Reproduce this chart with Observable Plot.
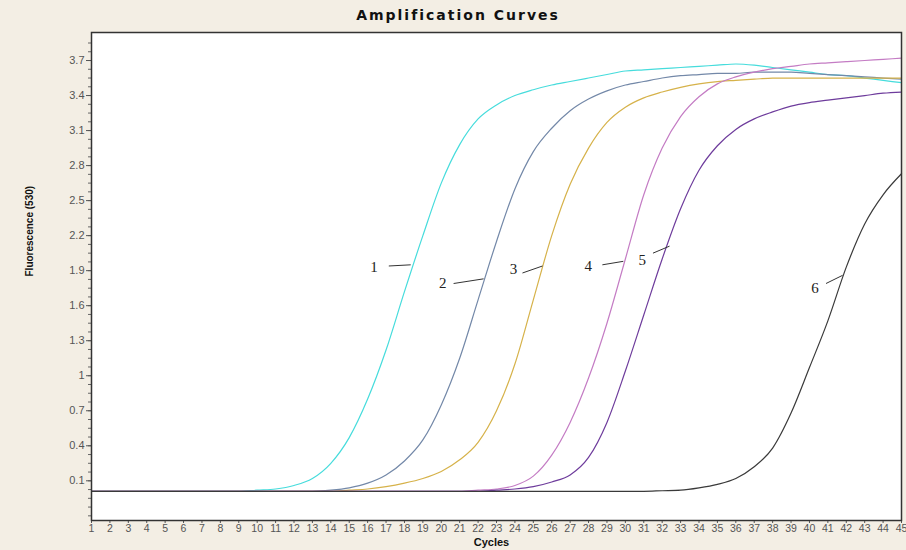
<!DOCTYPE html>
<html><head><meta charset="utf-8">
<script src="https://cdn.jsdelivr.net/npm/d3@7"></script>
<script src="https://cdn.jsdelivr.net/npm/@observablehq/plot@0.6"></script>
<style>
body{margin:0;background:#f3eee4;width:906px;height:550px;overflow:hidden;font-family:"Liberation Sans",Arial,sans-serif;}
#title{height:24px;line-height:30px;text-align:center;font-family:"DejaVu Sans",sans-serif;font-weight:bold;font-size:14px;letter-spacing:2px;color:#111;padding-left:10px;}
#chart svg{display:block;}
</style></head><body>
<div id="title">Amplification Curves</div>
<div id="chart"></div>
<script>
const cycles = [1,2,3,4,5,6,7,8,9,10,11,12,13,14,15,16,17,18,19,20,21,22,23,24,25,26,27,28,29,30,31,32,33,34,35,36,37,38,39,40,41,42,43,44,45];

const curve1 = [0.01,0.01,0.01,0.01,0.01,0.01,0.01,0.01,0.01,0.02,0.03,0.06,0.12,0.25,0.47,0.80,1.22,1.72,2.20,2.65,2.98,3.20,3.32,3.40,3.45,3.49,3.52,3.55,3.58,3.61,3.62,3.63,3.64,3.65,3.66,3.67,3.66,3.64,3.62,3.60,3.58,3.57,3.55,3.53,3.51];
const curve2 = [0.01,0.01,0.01,0.01,0.01,0.01,0.01,0.01,0.01,0.01,0.01,0.01,0.01,0.02,0.04,0.08,0.15,0.27,0.45,0.75,1.15,1.65,2.15,2.60,2.92,3.12,3.27,3.37,3.44,3.49,3.52,3.55,3.57,3.58,3.59,3.59,3.60,3.60,3.60,3.59,3.58,3.57,3.56,3.55,3.54];
const curve3 = [0.01,0.01,0.01,0.01,0.01,0.01,0.01,0.01,0.01,0.01,0.01,0.01,0.01,0.01,0.02,0.03,0.05,0.08,0.12,0.18,0.28,0.43,0.70,1.10,1.65,2.20,2.64,2.95,3.17,3.30,3.38,3.43,3.47,3.50,3.52,3.53,3.54,3.55,3.55,3.55,3.55,3.55,3.55,3.55,3.55];
const curve4 = [0.01,0.01,0.01,0.01,0.01,0.01,0.01,0.01,0.01,0.01,0.01,0.01,0.01,0.01,0.01,0.01,0.01,0.01,0.01,0.01,0.01,0.02,0.03,0.06,0.14,0.32,0.60,0.98,1.45,2.00,2.55,2.95,3.22,3.39,3.50,3.56,3.60,3.63,3.65,3.67,3.68,3.69,3.70,3.71,3.72];
const curve5 = [0.01,0.01,0.01,0.01,0.01,0.01,0.01,0.01,0.01,0.01,0.01,0.01,0.01,0.01,0.01,0.01,0.01,0.01,0.01,0.01,0.01,0.01,0.02,0.03,0.05,0.09,0.15,0.30,0.60,1.04,1.52,2.00,2.43,2.76,2.97,3.11,3.20,3.26,3.31,3.34,3.36,3.38,3.40,3.42,3.43];
const curve6 = [0.01,0.01,0.01,0.01,0.01,0.01,0.01,0.01,0.01,0.01,0.01,0.01,0.01,0.01,0.01,0.01,0.01,0.01,0.01,0.01,0.01,0.01,0.01,0.01,0.01,0.01,0.01,0.01,0.01,0.01,0.01,0.015,0.02,0.04,0.07,0.12,0.22,0.38,0.68,1.07,1.47,1.93,2.30,2.55,2.73];

const seriesNames = ["1","2","3","4","5","6"];
const seriesValues = [curve1, curve2, curve3, curve4, curve5, curve6];
const seriesColors = ["#46dcdc","#7388a8","#d6b24a","#c47cc4","#6e3c9c","#3a3a3a"];

const yTicks = [0.1,0.4,0.7,1,1.3,1.6,1.9,2.2,2.5,2.8,3.1,3.4,3.7];

const labelX = [16.34, 20.08, 23.93, 27.99, 30.92, 40.3];
const labelY = [1.93, 1.79, 1.91, 1.94, 1.99, 1.75];
const leaderX1 = [17.15, 20.67, 24.41, 28.75, 31.5, 40.9];
const leaderY1 = [1.94, 1.79, 1.88, 1.95, 2.05, 1.79];
const leaderX2 = [18.34, 22.3, 25.5, 29.89, 32.4, 41.8];
const leaderY2 = [1.95, 1.83, 1.94, 1.98, 2.11, 1.86];

const rows = [];
seriesNames.forEach((s, i) => cycles.forEach((c, j) => rows.push({series: s, cycle: c, value: seriesValues[i][j]})));
const labels = seriesNames.map((s, i) => ({name: s, x: labelX[i], y: labelY[i], x1: leaderX1[i], y1: leaderY1[i], x2: leaderX2[i], y2: leaderY2[i]}));
const yMinor = d3.range(-0.2, 3.9, 0.075);

const chart = Plot.plot({
  width: 906,
  height: 526,
  marginTop: 8,
  marginBottom: 30,
  marginLeft: 91,
  marginRight: 5,
  style: {background: "transparent", fontFamily: "Liberation Sans, Arial, sans-serif"},
  x: {domain: [1, 45]},
  y: {domain: [-0.24, 3.94]},
  color: {domain: seriesNames, range: seriesColors},
  marks: [
    Plot.frame({fill: "white", stroke: "none"}),
    Plot.axisY({ticks: yMinor, tickSize: 3, tickFormat: () => "", color: "#666", label: null}),
    Plot.axisY({ticks: yTicks, tickSize: 5, tickPadding: 2, tickFormat: d => String(d), fontSize: 11, color: "#555", label: null}),
    Plot.axisX({ticks: cycles, tickSize: 3, tickPadding: 1, fontSize: 10.5, color: "#555", label: null}),
    Plot.line(rows, {x: "cycle", y: "value", z: "series", stroke: "series", strokeWidth: 1.2, curve: "monotone-x"}),
    Plot.link(labels, {x1: "x1", y1: "y1", x2: "x2", y2: "y2", stroke: "#333", strokeWidth: 1}),
    Plot.text(labels, {x: "x", y: "y", text: "name", fontFamily: "Liberation Serif, serif", fontSize: 15, fill: "#222"}),
    Plot.text(["Fluorescence (530)"], {frameAnchor: "left", dx: -62, rotate: -90, fontWeight: "bold", fontSize: 10, fill: "#111"}),
    Plot.text(["Cycles"], {frameAnchor: "bottom", dx: -5, dy: 25, fontWeight: "bold", fontSize: 11, fill: "#111"}),
    Plot.frame({stroke: "#333", strokeWidth: 1.5})
  ]
});
document.getElementById("chart").appendChild(chart);
</script>
</body></html>
